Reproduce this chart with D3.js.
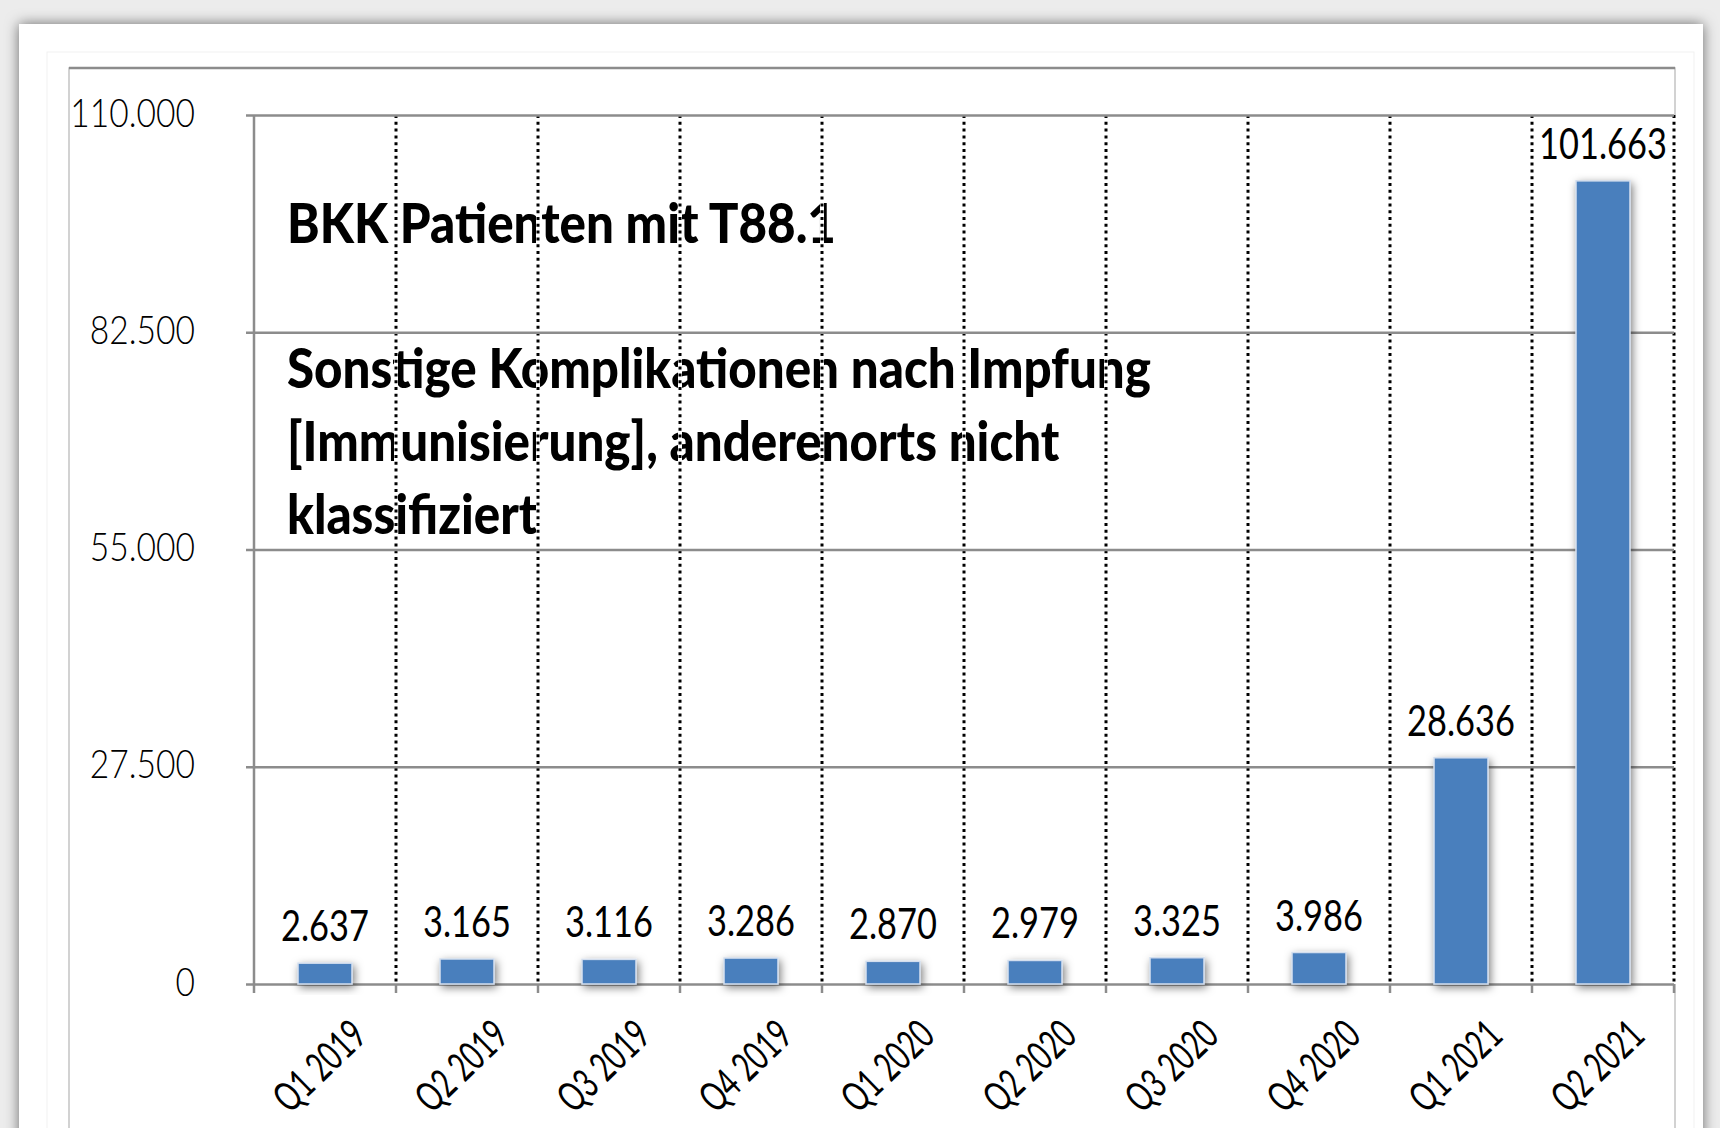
<!DOCTYPE html>
<html>
<head>
<meta charset="utf-8">
<script src="https://cdn.jsdelivr.net/npm/d3@7"></script>
<style>
  html, body { margin: 0; padding: 0; background: #ececec; }
  svg { display: block; }
</style>
</head>
<body>
<svg id="chart"></svg>
<script>
// data
const quarters = ["Q1 2019", "Q2 2019", "Q3 2019", "Q4 2019", "Q1 2020", "Q2 2020", "Q3 2020", "Q4 2020", "Q1 2021", "Q2 2021"];
const patients = [2637, 3165, 3116, 3286, 2870, 2979, 3325, 3986, 28636, 101663];
const yTicks = [0, 27500, 55000, 82500, 110000];
const titleLines = ["BKK Patienten mit T88.1", "", "Sonstige Komplikationen nach Impfung", "[Immunisierung], anderenorts nicht", "klassifiziert"];

const width = 1720;
const height = 1128;
const plot = { left: 254, right: 1674, top: 115, bottom: 984 };

const de = d3.formatLocale({ decimal: ",", thousands: ".", grouping: [3], currency: ["", " €"] });
const fmt = de.format(",d");

const $svg = d3.select("#chart").attr("width", width).attr("height", height);
const defs = $svg.append("defs");

// shadows
defs.append("filter")
  .attr("id", "cardShadow")
  .attr("x", "-5%").attr("y", "-5%").attr("width", "110%").attr("height", "110%")
  .append("feDropShadow")
  .attr("dx", 0).attr("dy", 0)
  .attr("stdDeviation", 7)
  .attr("flood-color", "#000")
  .attr("flood-opacity", 0.55);

defs.append("filter")
  .attr("id", "barShadow")
  .attr("x", "-50%").attr("y", "-50%").attr("width", "200%").attr("height", "200%")
  .append("feDropShadow")
  .attr("dx", 2).attr("dy", 3)
  .attr("stdDeviation", 4)
  .attr("flood-color", "#000")
  .attr("flood-opacity", 0.5);

// page / card frame
$svg.append("rect")
  .attr("width", width).attr("height", height)
  .attr("fill", "#ececec");
$svg.append("rect")
  .attr("x", 19).attr("y", 24)
  .attr("width", 1684).attr("height", 1200)
  .attr("fill", "#fff")
  .attr("filter", "url(#cardShadow)");
$svg.append("rect")
  .attr("x", 47).attr("y", 52)
  .attr("width", 1647).attr("height", 1200)
  .attr("fill", "none")
  .attr("stroke", "#f1f1f1");
// inner chart box
$svg.append("path")
  .attr("d", "M69,1140V68H1675V1140")
  .attr("fill", "none")
  .attr("stroke", "#c4c4c4")
  .attr("stroke-width", 1.5);
$svg.append("line")
  .attr("x1", 69).attr("x2", 1675)
  .attr("y1", 68).attr("y2", 68)
  .attr("stroke", "#8c8c8c")
  .attr("stroke-width", 2.5);

// scales
const x = d3.scaleBand()
  .domain(quarters)
  .range([plot.left, plot.right])
  .paddingInner(0.62)
  .paddingOuter(0.31);
const y = d3.scaleLinear()
  .domain([0, 110000])
  .range([plot.bottom, plot.top]);

// title block (under the dotted lines)
const lineHeight = 72.7;
const $title = $svg.append("g")
  .attr("transform", "translate(287,243) scale(0.88,1)");
$title.selectAll("text")
  .data(titleLines)
  .join("text")
  .attr("x", 0)
  .attr("y", (d, i) => i * lineHeight)
  .attr("fill", "#000")
  .style("font-family", "Lato, 'Open Sans', sans-serif")
  .style("font-weight", "900")
  .style("font-size", "56px")
  .text((d) => d);

// vertical dotted separators at category boundaries
const bounds = d3.range(1, quarters.length + 1).map((i) => x.range()[0] + i * x.step());
const $vgrid = $svg.append("g");
$vgrid.selectAll("line.halo")
  .data(bounds)
  .join("line")
  .attr("class", "halo")
  .attr("x1", (d) => d).attr("x2", (d) => d)
  .attr("y1", y(110000)).attr("y2", y(0))
  .attr("stroke", "#fff")
  .attr("stroke-width", 4);
$vgrid.selectAll("line.dots")
  .data(bounds)
  .join("line")
  .attr("class", "dots")
  .attr("x1", (d) => d).attr("x2", (d) => d)
  .attr("y1", y(110000)).attr("y2", y(0))
  .attr("stroke", "#000")
  .attr("stroke-width", 3)
  .attr("stroke-dasharray", "3,3.8");

// y axis with gridlines
const yAxis = d3.axisLeft(y)
  .tickValues(yTicks)
  .tickSize(-(plot.right - plot.left))
  .tickFormat(fmt);
const $yAxis = $svg.append("g")
  .attr("transform", `translate(${plot.left},0)`)
  .call(yAxis);
$yAxis.select(".domain").remove();
$yAxis.selectAll(".tick line")
  .attr("x1", -8)
  .attr("stroke", "#8c8c8c")
  .attr("stroke-width", 2.5);
$yAxis.selectAll(".tick text")
  .attr("x", 0)
  .attr("dy", null)
  .attr("transform", "translate(-59,11) scale(0.84,1)")
  .attr("fill", "#000")
  .style("font-family", "Lato, sans-serif")
  .style("font-weight", "300")
  .style("font-size", "40px");

// y axis line
$svg.append("line")
  .attr("x1", plot.left).attr("x2", plot.left)
  .attr("y1", plot.top).attr("y2", plot.bottom + 9)
  .attr("stroke", "#8c8c8c")
  .attr("stroke-width", 2.5);

// x axis tick marks at boundaries
$svg.append("g")
  .selectAll("line")
  .data(bounds)
  .join("line")
  .attr("x1", (d) => d).attr("x2", (d) => d)
  .attr("y1", plot.bottom).attr("y2", plot.bottom + 9)
  .attr("stroke", "#8c8c8c")
  .attr("stroke-width", 2.5);

// bars
$svg.append("g")
  .selectAll("rect")
  .data(patients)
  .join("rect")
  .attr("x", (d, i) => x(quarters[i]))
  .attr("y", (d) => y(d))
  .attr("width", x.bandwidth())
  .attr("height", (d) => y(0) - y(d))
  .attr("fill", "#4a7fbd")
  .attr("stroke", "#d3deee")
  .attr("stroke-width", 1.5)
  .attr("filter", "url(#barShadow)");

// value labels
$svg.append("g")
  .selectAll("text")
  .data(patients)
  .join("text")
  .attr("text-anchor", "middle")
  .attr("transform", (d, i) => `translate(${x(quarters[i]) + x.bandwidth() / 2},${y(d) - 22}) scale(0.8,1)`)
  .attr("fill", "#000")
  .style("font-family", "Lato, sans-serif")
  .style("font-weight", "400")
  .style("font-size", "43px")
  .text((d) => fmt(d));

// category labels, rotated
$svg.append("g")
  .selectAll("text")
  .data(quarters)
  .join("text")
  .attr("text-anchor", "end")
  .attr("transform", (d) => `translate(${x(d) + x.bandwidth() / 2 + 44},${plot.bottom + 54}) rotate(-44) scale(0.68,1)`)
  .attr("fill", "#000")
  .style("font-family", "Lato, sans-serif")
  .style("font-weight", "400")
  .style("font-size", "41px")
  .text((d) => d);
</script>
</body>
</html>
